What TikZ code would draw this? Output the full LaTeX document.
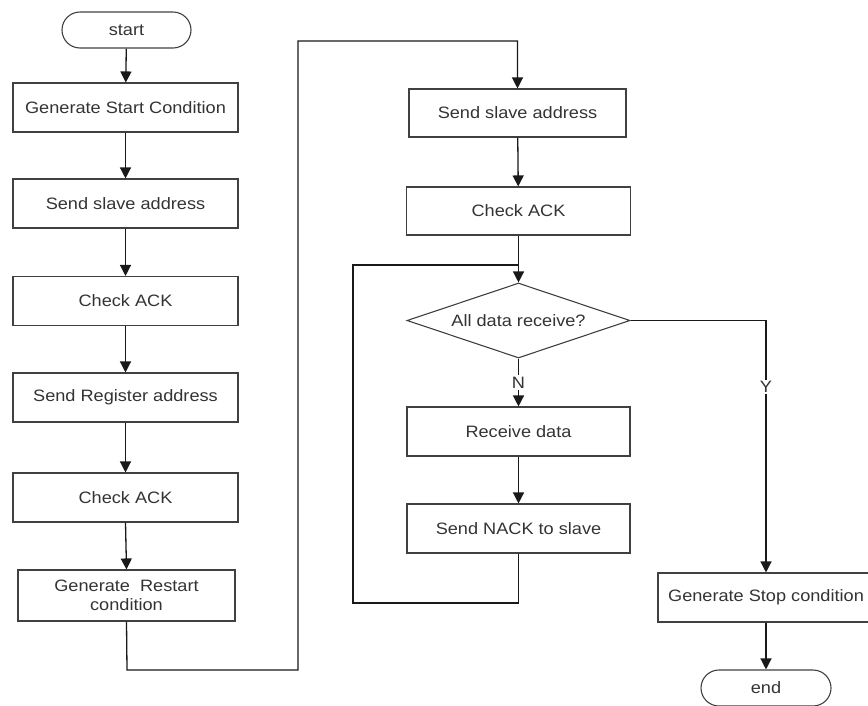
\documentclass[tikz,border=0pt]{standalone}
\usepackage{fontspec}
\setmainfont[FakeStretch=1.1]{Liberation Sans}
\usetikzlibrary{arrows.meta,shapes.geometric}
\begin{document}
\begin{tikzpicture}[x=1pt,y=-1pt,
  every node/.style={font=\fontsize{16.5}{19}\selectfont, text=black!80},
  proc/.style={draw=black!75, line width=1.1pt, rectangle, inner sep=0pt},
  term/.style={draw=black!75, line width=1.1pt, rectangle, rounded corners=18pt, minimum width=129pt, minimum height=36pt, inner sep=0pt},
  dec/.style={draw=black!75, line width=1.1pt, diamond, aspect=2.97, minimum width=223pt, minimum height=75pt, inner sep=0pt},
  flow/.style={draw=black!90, line width=1.3pt, -{Triangle[length=11pt,width=11pt]}},
  wire/.style={draw=black!90, line width=1.3pt},
  lbl/.style={fill=white, inner sep=1.5pt}
]
\useasboundingbox (0,0) rectangle (868,705);

% left column
\node[term] (start) at (126.5,30) {start};
\node[proc, minimum width=225pt, minimum height=49pt] (gsc) at (125.5,107.5) {Generate Start Condition};
\node[proc, minimum width=225pt, minimum height=49pt] (ssa) at (125.5,203.5) {Send slave address};
\node[proc, minimum width=225pt, minimum height=49pt] (ck1) at (125.5,301) {Check ACK};
\node[proc, minimum width=225pt, minimum height=49pt] (sra) at (125.5,397.5) {Send Register address};
\node[proc, minimum width=225pt, minimum height=49pt] (ck2) at (125.5,497.5) {Check ACK};
\node[proc, minimum width=217pt, minimum height=51pt, align=center] (grc) at (126.5,595.5) {Generate\ \ Restart\\condition};

% middle column
\node[proc, minimum width=217pt, minimum height=48pt] (ssa2) at (517.5,113) {Send slave address};
\node[proc, minimum width=224pt, minimum height=48pt] (ck3) at (518.5,211) {Check ACK};
\node[dec] (dia) at (518.5,320.5) {All data receive?};
\node[proc, minimum width=223pt, minimum height=49pt] (rd) at (518.5,431.5) {Receive data};
\node[proc, minimum width=223pt, minimum height=49pt] (snack) at (518.5,528.5) {Send NACK to slave};

% right column
\node[proc, minimum width=216pt, minimum height=49pt] (gstop) at (766,597.5) {Generate Stop condition};
\node[term, minimum width=130pt] (end) at (766,688) {end};

% coordinates for routed connectors
\coordinate (r1) at (127,670);
\coordinate (r2) at (298,670);
\coordinate (r3) at (298,41);
\coordinate (r4) at (517.5,41);
\coordinate (l1) at (518.5,603);
\coordinate (l2) at (353,603);
\coordinate (l3) at (353,265);
\coordinate (l4) at (518.5,265);

% connectors
\draw[flow] (start) -- (gsc);
\draw[flow] (gsc) -- (ssa);
\draw[flow] (ssa) -- (ck1);
\draw[flow] (ck1) -- (sra);
\draw[flow] (sra) -- (ck2);
\draw[flow] (ck2.south) -- (grc.north);
\draw[flow] (grc.south) -- (r1) -- (r2) -- (r3) -- (r4) -- (ssa2.north);
\draw[flow] (ssa2) -- (ck3);
\draw[flow] (ck3.south) -- (dia.north);
\draw[wire] (snack.south) -- (l1) -- (l2) -- (l3) -- (l4);
\draw[flow] (dia.south) -- node[lbl] {N} (rd.north);
\draw[flow] (rd) -- (snack);
\draw[flow] (dia.east) -| node[lbl, pos=0.632] {Y} (gstop.north);
\draw[flow] (gstop) -- (end);
\end{tikzpicture}
\end{document}
